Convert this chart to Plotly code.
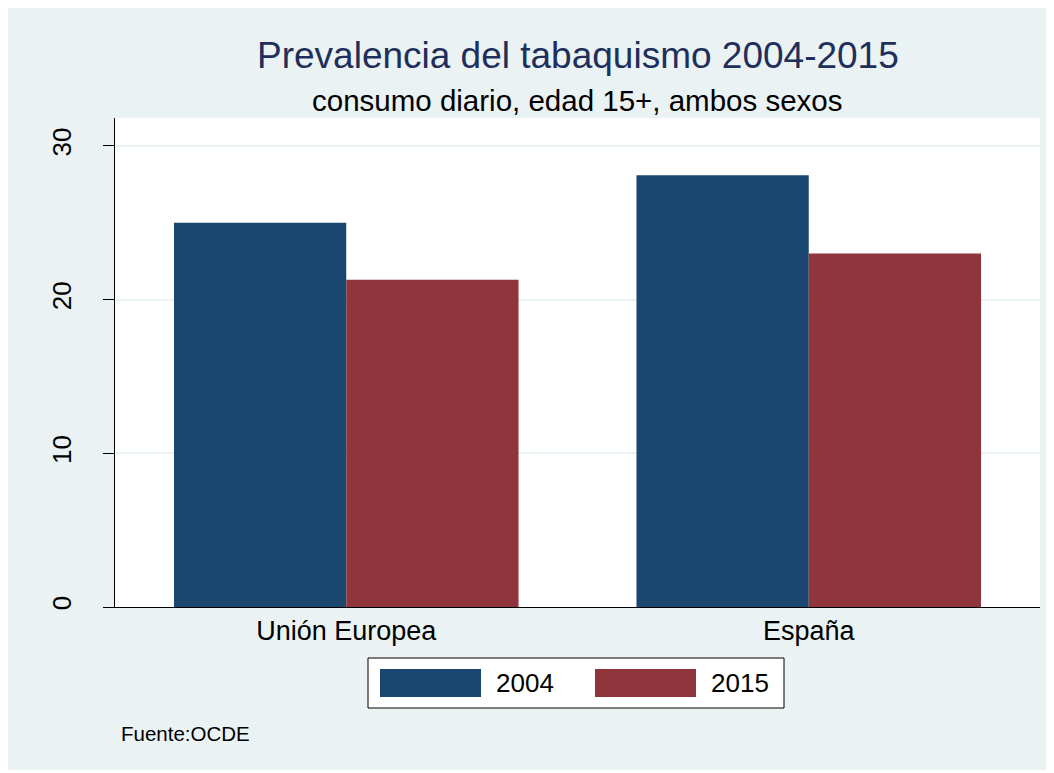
import plotly.graph_objects as go

# datos (OCDE), % fumadores diarios 15+
regiones = ["Unión Europea", "España"]
anios = ["2004", "2015"]
valores_2004 = [25.0, 28.1]
valores_2015 = [21.3, 23.0]
colores = ["#1a476f", "#90353b"]

# la pagina deja 8px de margen, asi que todo va desplazado 8px
OFF = 8
W, H = 1043, 762
L, R, T, B = 115 - OFF, 1040 - OFF, 118 - OFF, 607 - OFF  # area del grafico


def px(x):
    return (x - OFF - L) / (R - L)


def py(y):
    return (B - (y - OFF)) / (B - T)


fig = go.Figure()
for anio, vals, col in zip(anios, [valores_2004, valores_2015], colores):
    fig.add_trace(go.Bar(x=regiones, y=vals, name=anio, marker=dict(color=col, line=dict(width=0))))

fig.update_layout(
    width=W, height=H,
    margin=dict(l=L, r=W - R, t=T, b=H - B),
    paper_bgcolor="#eaf2f3",
    plot_bgcolor="white",
    barmode="group",
    bargap=0.255,
    bargroupgap=0,
    showlegend=False,
    font=dict(family="Liberation Sans, Arial", color="black"),
)
fig.update_xaxes(showline=True, linecolor="black", linewidth=1, ticks="",
                 tickfont=dict(size=27), showgrid=False)
fig.update_yaxes(range=[0, 31.82], tickvals=[0, 10, 20, 30], ticks="outside", ticklen=11,
                 tickcolor="black", tickangle=-90, tickfont=dict(size=26), ticklabelstandoff=22,
                 showline=True, linecolor="black", linewidth=1,
                 showgrid=True, gridcolor="#eaf2f3", gridwidth=2, zeroline=False)

# titulos
fig.add_annotation(text="Prevalencia del tabaquismo 2004-2015", xref="paper", yref="paper",
                   x=0.5, y=py(55), yanchor="middle", showarrow=False,
                   font=dict(size=37, color="#1e2f5c"))
fig.add_annotation(text="consumo diario, edad 15+, ambos sexos", xref="paper", yref="paper",
                   x=0.5, y=py(100), yanchor="middle", showarrow=False, font=dict(size=29.5))
fig.add_annotation(text="Fuente:OCDE", xref="paper", yref="paper", xanchor="left", yanchor="middle",
                   x=px(119), y=py(733), showarrow=False, font=dict(size=20.5))

# leyenda dibujada a mano (estilo Stata)
fig.add_shape(type="rect", xref="paper", yref="paper", x0=px(368), x1=px(784), y0=py(708), y1=py(658),
              fillcolor="white", line=dict(color="black", width=1))
for i, (anio, col) in enumerate(zip(anios, colores)):
    x0 = 380 + i * 215
    fig.add_shape(type="rect", xref="paper", yref="paper", x0=px(x0), x1=px(x0 + 101),
                  y0=py(697), y1=py(669), fillcolor=col, line=dict(width=0))
    fig.add_annotation(text=anio, xref="paper", yref="paper", xanchor="left", yanchor="middle",
                       x=px(x0 + 114), y=py(683), showarrow=False, font=dict(size=26))

fig.write_html("out.html")
